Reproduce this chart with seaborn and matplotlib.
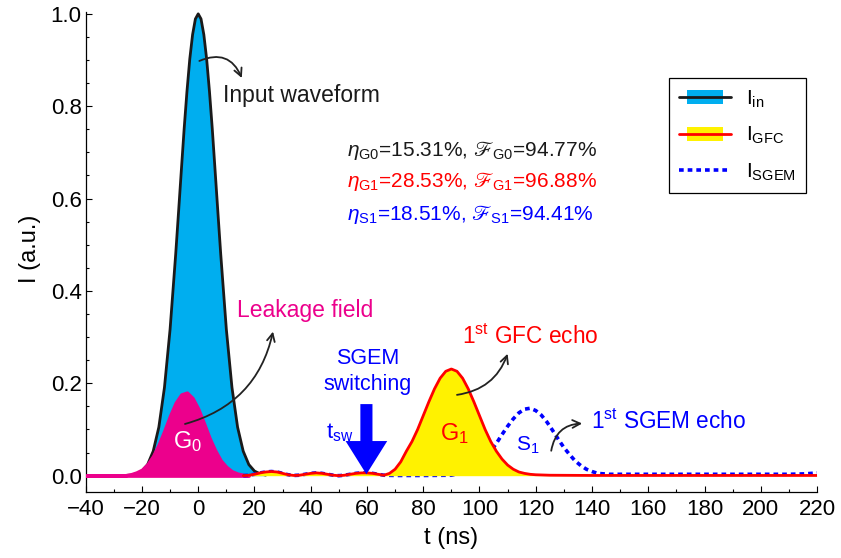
import numpy as np
import pandas as pd
import matplotlib
matplotlib.use("Agg")
import matplotlib.pyplot as plt
import seaborn as sns
from matplotlib.patches import Rectangle, Patch
from matplotlib.lines import Line2D
from matplotlib.legend_handler import HandlerBase
from matplotlib.ticker import MultipleLocator

# ---------------- data ----------------
t_in = [-40, -30, -28, -26, -24, -22, -20, -18, -16, -14, -12, -10, -8, -7, -6, -5, -4, -3, -2, -1,
        0, 1, 2, 3, 4, 5, 6, 7, 8, 10, 12, 14, 16, 18, 20, 22, 24]
I_in = [0.0, 0.0, 0.0001, 0.0004, 0.0013, 0.004, 0.010, 0.024, 0.053, 0.105, 0.191, 0.317, 0.480, 0.570,
        0.661, 0.751, 0.832, 0.902, 0.955, 0.989, 1.0, 0.989, 0.955, 0.902, 0.832, 0.751, 0.661, 0.570,
        0.480, 0.317, 0.191, 0.105, 0.053, 0.024, 0.010, 0.004, 0.0013]

t_g0 = [-40, -26, -24, -22, -20, -18, -16, -14, -12, -10, -8, -6, -4, -2, 0, 2, 4, 6, 8, 10, 12, 14, 16, 18]
I_g0 = [0.0, 0.001, 0.003, 0.007, 0.013, 0.025, 0.043, 0.068, 0.098, 0.130, 0.158, 0.176, 0.180, 0.168,
        0.145, 0.114, 0.082, 0.055, 0.033, 0.019, 0.0095, 0.0045, 0.002, 0.0]

t_gfc = [16, 18, 20, 22, 24, 26, 28, 30, 32, 34, 36, 38, 40, 42, 44, 46, 48, 50, 52, 54, 56, 58, 60, 62,
         64, 66, 68, 70, 72, 74, 76, 78, 80, 82, 84, 86, 88, 90, 92, 94, 96, 98, 100, 102, 104, 106, 108,
         110, 112, 114, 116, 118, 120, 125, 140, 220]
I_gfc = [0.0, 0.001, 0.003, 0.006, 0.008, 0.009, 0.008, 0.005, 0.002, 0.0005, 0.001, 0.003, 0.005, 0.006,
         0.005, 0.003, 0.001, 0.0, 0.001, 0.003, 0.005, 0.006, 0.006, 0.005, 0.003, 0.001, 0.005, 0.014,
         0.030, 0.053, 0.074, 0.100, 0.130, 0.160, 0.188, 0.211, 0.226, 0.231, 0.226, 0.211, 0.188, 0.160,
         0.130, 0.100, 0.074, 0.053, 0.036, 0.023, 0.014, 0.008, 0.005, 0.003, 0.002, 0.001, 0.0005, 0.0005]

t_sgem = [16, 18, 20, 22, 24, 26, 28, 30, 32, 34, 36, 38, 40, 42, 44, 46, 48, 50, 52, 54, 56, 58, 60, 62,
          64, 66, 70, 80, 90, 92, 94, 96, 98, 100, 102, 104, 106, 108, 110, 112, 114, 116, 118, 120, 122,
          124, 126, 128, 130, 132, 134, 136, 138, 140, 142, 146, 150, 200, 210, 216, 220]
I_sgem = [0.0, 0.001, 0.003, 0.006, 0.008, 0.009, 0.008, 0.005, 0.002, 0.0005, 0.001, 0.003, 0.005, 0.006,
          0.005, 0.003, 0.001, 0.0, 0.001, 0.003, 0.005, 0.006, 0.006, 0.005, 0.003, 0.001, 0.0005, 0.0005,
          0.001, 0.004, 0.007, 0.011, 0.018, 0.027, 0.039, 0.053, 0.070, 0.089, 0.107, 0.123, 0.136, 0.144,
          0.146, 0.141, 0.131, 0.116, 0.098, 0.079, 0.061, 0.046, 0.032, 0.022, 0.014, 0.009, 0.005, 0.003,
          0.003, 0.003, 0.003, 0.004, 0.006]

eta_lines = [r"$\eta_{\rm G0}$=15.31%, $ℱ_{\rm G0}$=94.77%",
             r"$\eta_{\rm G1}$=28.53%, $ℱ_{\rm G1}$=96.88%",
             r"$\eta_{\rm S1}$=18.51%, $ℱ_{\rm S1}$=94.41%"]
eta_colors = ["#1a1a1a", "#ff0000", "#0000ff"]
legend_labels = [r"I$_{\rm in}$", r"I$_{\rm GFC}$", r"I$_{\rm SGEM}$"]

# ---------------- style ----------------
sns.set_theme(style="ticks")
plt.rcParams["font.family"] = ["Liberation Sans", "DejaVu Sans"]
plt.rcParams["mathtext.fontset"] = "custom"
plt.rcParams["mathtext.rm"] = "Liberation Sans"
plt.rcParams["mathtext.it"] = "Liberation Sans:italic"
plt.rcParams["mathtext.bf"] = "Liberation Sans:bold"
plt.rcParams["mathtext.fallback"] = "stix"
plt.rcParams["axes.unicode_minus"] = True

C_IN = "#00aeef"
C_G0 = "#ec008c"
C_Y = "#fff200"
C_RED = "#ff0000"
C_BLUE = "#0000ff"

fig = plt.figure(figsize=(8.41, 5.58), dpi=100)
ax = fig.add_axes([0.1019, 0.1188, 0.8696, 0.8597])

df_in = pd.DataFrame({"t": t_in, "I": I_in})
df_gfc = pd.DataFrame({"t": t_gfc, "I": I_gfc})
df_sgem = pd.DataFrame({"t": t_sgem, "I": I_sgem})

# input waveform
ax.fill_between(t_in, 0, I_in, color=C_IN, lw=0, zorder=1)
sns.lineplot(data=df_in, x="t", y="I", ax=ax, color="#1a1a1a", lw=2, estimator=None, sort=False, zorder=2)
# leakage field
ax.fill_between(t_g0, 0, I_g0, facecolor=C_G0, edgecolor=C_G0, lw=2.4, zorder=3)
# SGEM (under the GFC fill)
sns.lineplot(data=df_sgem, x="t", y="I", ax=ax, color=C_BLUE, lw=2.6, estimator=None, sort=False,
             zorder=4, linestyle=(0, (1.3, 1.1)))
# GFC
ax.fill_between(t_gfc, 0, I_gfc, color=C_Y, lw=0, zorder=5)
sns.lineplot(data=df_gfc, x="t", y="I", ax=ax, color=C_RED, lw=2, estimator=None, sort=False, zorder=6)

ax.set_xlim(-40, 220)
ax.set_ylim(-0.0347, 1.004)
ax.xaxis.set_major_locator(MultipleLocator(20))
ax.xaxis.set_minor_locator(MultipleLocator(10))
ax.yaxis.set_major_locator(MultipleLocator(0.2))
ax.yaxis.set_minor_locator(MultipleLocator(0.05))
ax.yaxis.set_major_formatter(matplotlib.ticker.FormatStrFormatter("%.1f"))
ax.tick_params(which="major", direction="in", length=4.6, width=0.8, color="black",
               labelsize=16, labelcolor="black")
ax.tick_params(which="minor", direction="in", length=2.4, width=0.8, color="black")
ax.tick_params(axis="x", pad=5)
ax.tick_params(axis="y", pad=3)
for s in ["top", "right"]:
    ax.spines[s].set_visible(False)
for s in ["left", "bottom"]:
    ax.spines[s].set_color("black")
    ax.spines[s].set_linewidth(0.9)

ax.set_xlabel("t (ns)", fontsize=17, color="black")
ax.set_ylabel("I (a.u.)", fontsize=17, color="black")
ax.xaxis.label.set_va("center")
ax.yaxis.label.set_va("center")
ax.xaxis.set_label_coords(0.5, -0.0965)
ax.yaxis.set_label_coords(-0.076, 0.506)

# ---------------- annotations ----------------
arrow_kw = dict(arrowstyle="->", color="#222222", lw=1.3, mutation_scale=14, shrinkA=0, shrinkB=0)
ax.annotate("", xy=(15.5, 0.861), xytext=(0.4, 0.898),
            arrowprops=dict(connectionstyle="arc3,rad=-0.5", **arrow_kw), zorder=10)
ax.text(8.85, 0.824, "Input waveform", fontsize=16.5, color="#1a1a1a", ha="left", va="center")

ax.annotate("", xy=(26.6, 0.312), xytext=(-4.7, 0.112),
            arrowprops=dict(connectionstyle="arc3,rad=0.3", **arrow_kw), zorder=10)
ax.text(13.7, 0.358, "Leakage field", fontsize=16.5, color=C_G0, ha="left", va="center")

ax.annotate("", xy=(110, 0.264), xytext=(92, 0.175),
            arrowprops=dict(connectionstyle="arc3,rad=0.3", **arrow_kw), zorder=10)
ax.text(93.7, 0.300, r"1$^{\rm st}$ GFC echo", fontsize=16.3, color=C_RED, ha="left", va="center")

ax.annotate("", xy=(136.5, 0.113), xytext=(125.5, 0.054),
            arrowprops=dict(connectionstyle="arc3,rad=-0.4", **arrow_kw), zorder=10)
ax.text(139.5, 0.117, r"1$^{\rm st}$ SGEM echo", fontsize=16.3, color=C_BLUE, ha="left", va="center")

ax.text(60.3, 0.225, "SGEM\nswitching", fontsize=15.5, color=C_BLUE, ha="center", va="center",
        linespacing=1.3)
ax.arrow(59.8, 0.155, 0, -0.152, width=4.3, head_width=14.8, head_length=0.072,
         length_includes_head=True, color=C_BLUE, lw=0, zorder=11)
ax.text(45.6, 0.092, r"t$_{\rm sw}$", fontsize=16, color=C_BLUE, ha="left", va="center")

ax.text(-3.8, 0.074, r"G$_0$", fontsize=17, color="white", ha="center", va="center", zorder=12)
ax.text(91.2, 0.092, r"G$_1$", fontsize=17, color=C_RED, ha="center", va="center", zorder=12)
ax.text(117, 0.066, r"S$_1$", fontsize=15, color=C_BLUE, ha="center", va="center", zorder=12)

for y, s, c in zip([0.705, 0.637, 0.565], eta_lines, eta_colors):
    ax.text(52.8, y, s, fontsize=15, color=c, ha="left", va="center")

# ---------------- legend ----------------
class FillLineHandler(HandlerBase):
    def __init__(self, fc, lc, lw):
        super().__init__()
        self.fc, self.lc, self.lw = fc, lc, lw

    def create_artists(self, legend, orig_handle, xdescent, ydescent, width, height, fontsize, trans):
        x0, y0 = -xdescent, -ydescent
        rw, rh = width * 0.68, height * 0.95
        rect = Rectangle((x0 + (width - rw) / 2, y0 + (height - rh) / 2), rw, rh,
                         facecolor=self.fc, edgecolor="none", transform=trans)
        line = Line2D([x0, x0 + width], [y0 + height / 2] * 2, color=self.lc, lw=self.lw, transform=trans)
        return [rect, line]

h_in = Patch(facecolor=C_IN)
h_gfc = Patch(facecolor=C_Y)
h_sgem = Line2D([], [], color=C_BLUE, lw=2.6, linestyle=(0, (1.3, 1.1)))
leg = ax.legend([h_in, h_gfc, h_sgem], legend_labels,
                handler_map={h_in: FillLineHandler(C_IN, "#1a1a1a", 2),
                             h_gfc: FillLineHandler(C_Y, C_RED, 2)},
                loc="upper right", bbox_to_anchor=(0.985, 0.862), borderaxespad=0,
                fontsize=15, handlelength=2.5, handletextpad=0.7, labelspacing=0.72,
                fancybox=False, framealpha=1, edgecolor="black", borderpad=0.5)
leg.get_frame().set_linewidth(0.9)
for txt in leg.get_texts():
    txt.set_color("black")

fig.savefig("out.png", dpi=100)
